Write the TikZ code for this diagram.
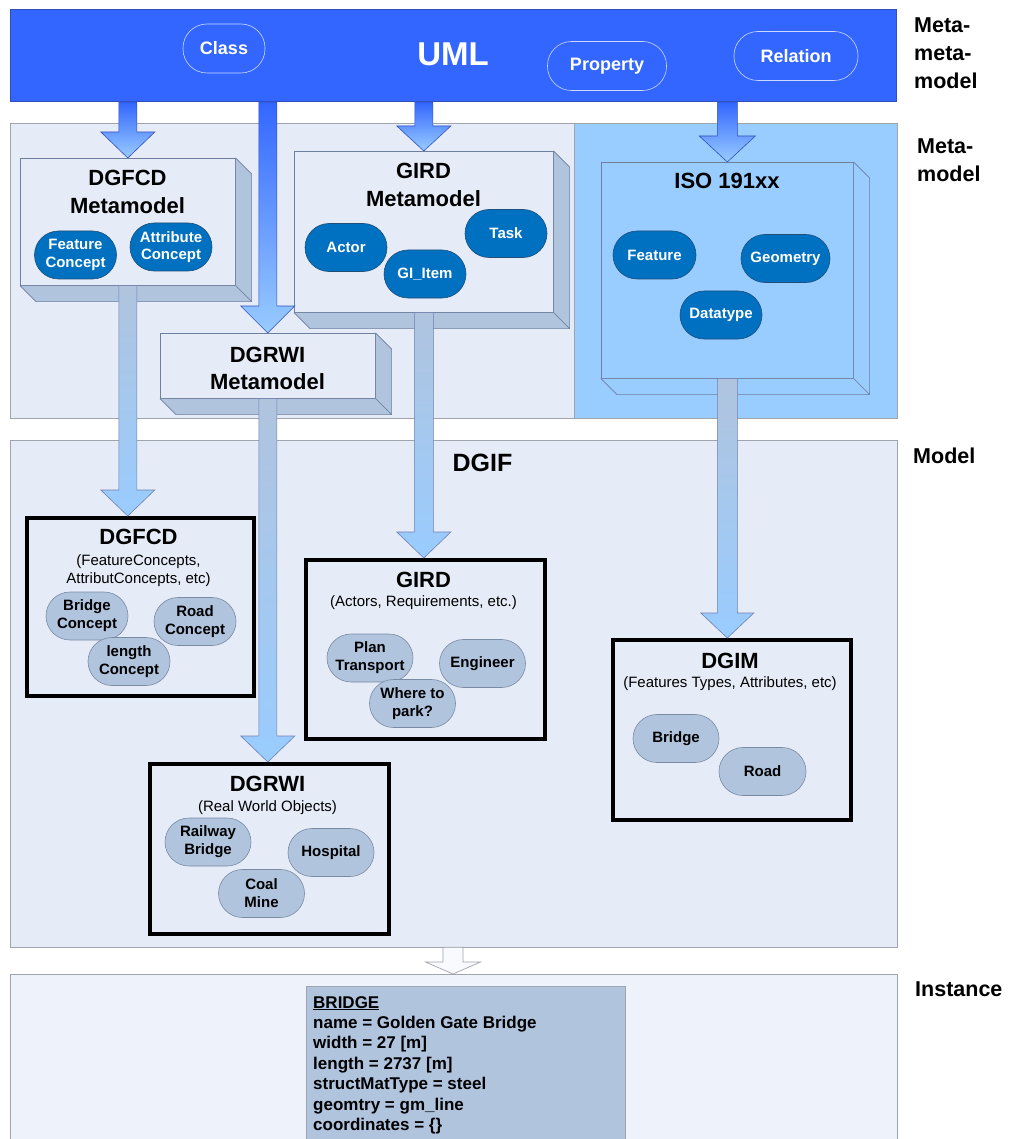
\documentclass[tikz,border=0pt]{standalone}
\usepackage{fontspec}
\setmainfont{Liberation Sans}
\usetikzlibrary{calc}

\definecolor{umlblue}{HTML}{3366FF}
\definecolor{panel}{HTML}{E6ECF7}
\definecolor{isopanel}{HTML}{99CCFF}
\definecolor{instpanel}{HTML}{EEF2FA}
\definecolor{darkoval}{HTML}{0070C0}
\definecolor{darkovalline}{HTML}{1F4E79}
\definecolor{lightoval}{HTML}{B0C4DE}
\definecolor{lightovalline}{HTML}{7A8AA3}
\definecolor{sideface}{HTML}{B0C4DE}
\definecolor{boxline}{HTML}{6F7F9F}
\definecolor{panelline}{HTML}{A0A4AC}
\definecolor{arrowline}{HTML}{6F80B0}
\definecolor{umlarrowline}{HTML}{2F4FBF}

\newcommand\fs[2]{\fontsize{#1}{#2}\selectfont}

% vertical block arrow: style, start point, tip point, shaft half width, head half width, head length
\newcommand\bigarrow[6]{%
  \draw[#1] let \p1=#2, \p2=#3 in
    (\x2-#4pt,\y1) -- (\x2+#4pt,\y1) -- (\x2+#4pt,\y2+#6pt) -- (\x2+#5pt,\y2+#6pt)
    -- (\x2,\y2) -- (\x2-#5pt,\y2+#6pt) -- (\x2-#4pt,\y2+#6pt) -- cycle;}

% side and bottom faces of a raised box
\newcommand\depthfaces[2]{%
  \draw[boxline, fill=#2, line width=0.6pt, line join=round]
    (#1.north east) -- ++(16,16) -- ($(#1.south east)+(16,16)$) -- (#1.south east) -- cycle;
  \draw[boxline, fill=#2, line width=0.6pt, line join=round]
    (#1.south west) -- ($(#1.south west)+(16,16)$) -- ($(#1.south east)+(16,16)$) -- (#1.south east) -- cycle;}

\begin{document}
\begin{tikzpicture}[x=1pt, y=-1pt,
  panelbox/.style={draw=panelline, line width=0.8pt},
  umloval/.style={draw=white!75!umlblue, line width=0.6pt, fill=umlblue, text=white,
    font=\bfseries\fs{18}{21}, rounded corners=24pt, minimum height=49pt, inner sep=0pt},
  darkoval/.style={draw=darkovalline, line width=0.6pt, fill=darkoval, text=white,
    font=\bfseries\fs{15}{17.5}, align=center, rounded corners=24pt,
    minimum height=48pt, minimum width=82pt, inner sep=0pt},
  lightoval/.style={draw=lightovalline, line width=0.6pt, fill=lightoval, text=black,
    font=\bfseries\fs{15}{18}, align=center, rounded corners=24pt,
    minimum height=48pt, minimum width=86pt, inner sep=0pt},
  face/.style={draw=boxline, line width=0.6pt, fill=panel, inner sep=0pt, anchor=north west},
  modelbox/.style={draw=black, line width=3.5pt, fill=panel, inner sep=0pt, anchor=north west},
  title/.style={font=\bfseries\fs{22}{26}, inner sep=0pt, anchor=base},
  subtitle/.style={font=\fs{15}{18}, inner sep=0pt, anchor=base},
  levellabel/.style={font=\bfseries\fs{21.5}{25}, inner sep=0pt, anchor=base west},
  umlarrow/.style={draw=umlarrowline, line width=0.6pt, top color=umlblue, bottom color=isopanel},
  downarrow/.style={draw=arrowline, line width=0.6pt, top color=sideface, bottom color=isopanel},
  instarrow/.style={draw=panelline, line width=0.7pt, fill=white!60!instpanel}
]
\useasboundingbox (0,0) rectangle (1010,1139);
\fill[white] (0,0) rectangle (1010,1139);

% ---------- level panels ----------
\node[panelbox, fill=panel, inner sep=0pt, anchor=north west,
  minimum width=887pt, minimum height=295pt] (metapanel) at (10,123) {};
\node[panelbox, fill=isopanel, inner sep=0pt, anchor=north west,
  minimum width=323pt, minimum height=295pt] (isopanelbox) at (574,123) {};
\node[panelbox, fill=panel, inner sep=0pt, anchor=north west,
  minimum width=887pt, minimum height=507pt] (modelpanel) at (10,439.5) {};
\node[panelbox, fill=instpanel, inner sep=0pt, anchor=north west,
  minimum width=887pt, minimum height=180pt] (instpanel) at (10,974) {};

% ---------- UML band ----------
\node[draw=umlarrowline, line width=0.5pt, fill=umlblue, inner sep=0pt, anchor=north west,
  minimum width=886pt, minimum height=92pt] (uml) at (10,9.5) {};
\node[font=\bfseries\fs{33}{38}, text=white, inner sep=0pt, anchor=base] (umltitle) at (453,66) {UML};
\node[umloval, minimum width=82pt] (class) at (224,48.5) {Class};
\node[umloval, minimum width=119pt] (property) at (607,66) {Property};
\node[umloval, minimum width=124pt] (relation) at (796,56) {Relation};

% ---------- level labels ----------
\node[levellabel] (lmm1) at (914,33) {Meta-};
\node[levellabel] (lmm2) at (914,61) {meta-};
\node[levellabel] (lmm3) at (914,89) {model};
\node[levellabel] (lm1) at (917,154) {Meta-};
\node[levellabel] (lm2) at (917,182) {model};
\node[levellabel] (lmodel) at (913,463) {Model};
\node[levellabel] (linst) at (915,996) {Instance};

% ---------- metamodels ----------
\node[face, minimum width=215pt, minimum height=127pt] (dgfcdmm) at (20,158) {};
\depthfaces{dgfcdmm}{sideface}
\node[title] (dgfcdmmt1) at (127.5,186) {DGFCD};
\node[title] (dgfcdmmt2) at (127.5,214) {Metamodel};
\node[darkoval] (featconc) at (75.5,255) {Feature\\Concept};
\node[darkoval] (attrconc) at (171,247) {Attribute\\Concept};

\node[face, minimum width=259pt, minimum height=161pt] (girdmm) at (294,151) {};
\depthfaces{girdmm}{sideface}
\node[title] (girdmmt1) at (423.5,179) {GIRD};
\node[title] (girdmmt2) at (423.5,207) {Metamodel};
\node[darkoval] (actor) at (346,247.5) {Actor};
\node[darkoval] (giitem) at (425,274) {GI\_Item};
\node[darkoval] (task) at (506,233.5) {Task};

\node[face, minimum width=215pt, minimum height=65pt] (dgrwimm) at (160,333) {};
\depthfaces{dgrwimm}{sideface}
\node[title] (dgrwimmt1) at (267.5,362) {DGRWI};
\node[title] (dgrwimmt2) at (267.5,389) {Metamodel};

\node[face, fill=isopanel, minimum width=252pt, minimum height=216pt] (iso) at (601,162) {};
\depthfaces{iso}{isopanel}
\node[title] (isot) at (727,189) {ISO 191xx};
\node[darkoval, minimum width=83pt] (isofeature) at (654.5,255) {Feature};
\node[darkoval, minimum width=89pt] (isogeom) at (785.5,258.5) {Geometry};
\node[darkoval] (isodatatype) at (721,315) {Datatype};

% ---------- arrows from UML ----------
\bigarrow{umlarrow}{(uml.south -| dgfcdmm.north)}{(dgfcdmm.north)}{9}{27}{26}
\bigarrow{umlarrow}{(uml.south -| dgrwimm.north)}{(dgrwimm.north)}{9}{27}{27}
\bigarrow{umlarrow}{(uml.south -| girdmm.north)}{(girdmm.north)}{9}{27}{25}
\bigarrow{umlarrow}{(uml.south -| iso.north)}{(iso.north)}{10}{28}{26}

% ---------- model ----------
\node[font=\bfseries\fs{25}{30}, inner sep=0pt, anchor=base] (dgif) at (482.5,471) {DGIF};

\node[modelbox, minimum width=227pt, minimum height=178pt] (dgfcd) at (25,516) {};
\node[title] (dgfcdt) at (138.5,544) {DGFCD};
\node[subtitle] (dgfcds1) at (138.5,565) {(FeatureConcepts,};
\node[subtitle] (dgfcds2) at (138.5,583) {AttributConcepts, etc)};
\node[lightoval, minimum width=82pt] (bridgeconc) at (87,616) {Bridge\\Concept};
\node[lightoval, minimum width=82pt] (roadconc) at (195,621.5) {Road\\Concept};
\node[lightoval, minimum width=82pt] (lengthconc) at (129,661.5) {length\\Concept};

\node[modelbox, minimum width=239pt, minimum height=179pt] (girdm) at (304,558) {};
\node[title] (girdt) at (423.5,587) {GIRD};
\node[subtitle] (girds) at (423.5,606) {(Actors, Requirements, etc.)};
\node[lightoval] (plantransport) at (370,658) {Plan\\Transport};
\node[lightoval] (engineer) at (482.5,663.5) {Engineer};
\node[lightoval] (wheretopark) at (412.5,703.5) {Where to\\park?};

\node[modelbox, minimum width=239pt, minimum height=170pt] (dgrwi) at (148,762) {};
\node[title] (dgrwit) at (267.5,791) {DGRWI};
\node[subtitle] (dgrwis) at (267.5,811) {(Real World Objects)};
\node[lightoval] (railbridge) at (208,842) {Railway\\Bridge};
\node[lightoval] (hospital) at (331,852.5) {Hospital};
\node[lightoval] (coalmine) at (261.5,893.5) {Coal\\Mine};

\node[modelbox, minimum width=238pt, minimum height=180pt] (dgim) at (611,638) {};
\node[title] (dgimt) at (730,668) {DGIM};
\node[subtitle] (dgims) at (730,687) {(Features Types, Attributes, etc)};
\node[lightoval] (dgimbridge) at (676,738.5) {Bridge};
\node[lightoval, minimum width=87pt] (dgimroad) at (762.5,771.5) {Road};

% ---------- arrows from metamodels to models ----------
\bigarrow{downarrow}{(dgfcdmm.south)}{(dgfcd.north -| dgfcdmm.south)}{9}{27}{26}
\bigarrow{downarrow}{(dgrwimm.south)}{(dgrwi.north -| dgrwimm.south)}{9}{27}{26}
\bigarrow{downarrow}{(girdmm.south)}{(girdm.north -| girdmm.south)}{9.5}{27}{26}
\bigarrow{downarrow}{(iso.south)}{(dgim.north -| iso.south)}{10}{26.5}{25}

% ---------- instance ----------
\coordinate (instx) at (453,0);
\bigarrow{instarrow}{(modelpanel.south -| instx)}{(instpanel.north -| instx)}{10}{27.5}{12}

\node[draw=panelline, line width=0.7pt, fill=lightoval, inner sep=0pt, anchor=north west,
  minimum width=319pt, minimum height=170pt] (bridgeinst) at (306,986) {};
% the base anchor of a multi-line node sits on its last line
\node[font=\bfseries\fs{17}{20.4}, align=left, inner sep=0pt, anchor=base west] (bridgetext) at (313,1130.4)
  {\underline{BRIDGE}\\name = Golden Gate Bridge\\width = 27 [m]\\length = 2737 [m]\\structMatType = steel\\geomtry = gm\_line\\coordinates = \{\}};
\end{tikzpicture}
\end{document}
